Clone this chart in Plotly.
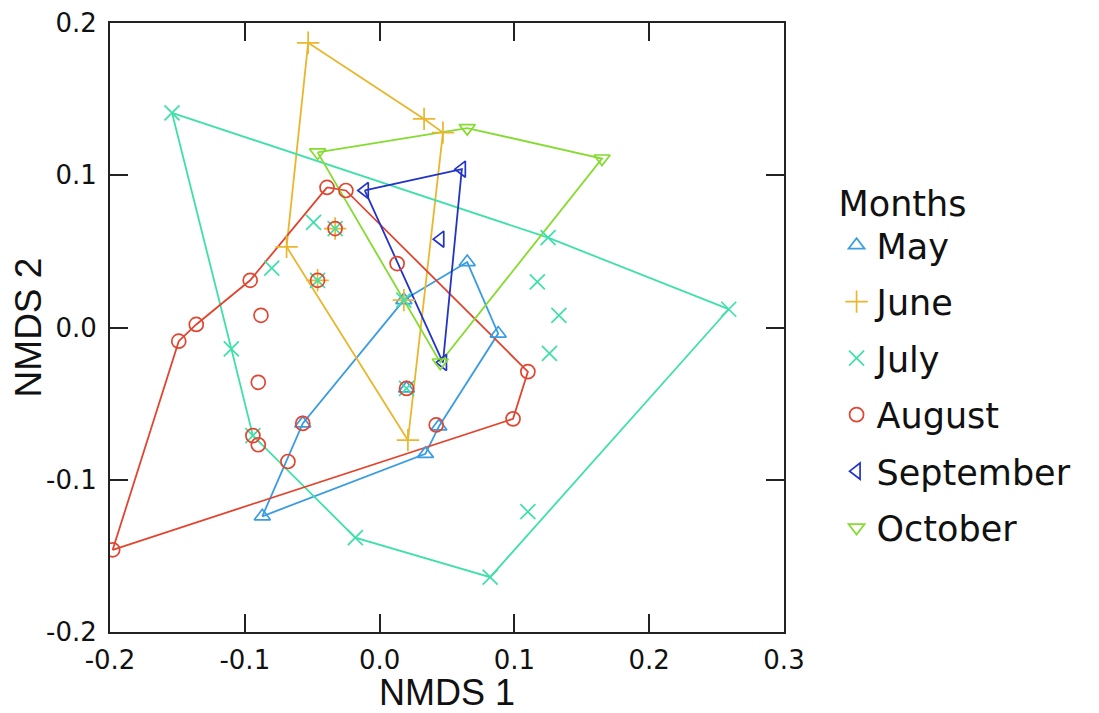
import plotly.graph_objects as go

# ---------------- data ----------------
months = ["May", "June", "July", "August", "September", "October"]

may_x = [0.018, 0.065, 0.088, 0.044, 0.034, -0.087, -0.057, 0.020]
may_y = [0.018, 0.043, -0.004, -0.065, -0.083, -0.124, -0.063, -0.040]
may_hull = [0, 1, 2, 3, 4, 5, 6, 0]

june_x = [-0.053, 0.033, 0.047, 0.021, -0.069, -0.033, -0.046, 0.018]
june_y = [0.187, 0.137, 0.128, -0.074, 0.053, 0.065, 0.031, 0.018]
june_hull = [0, 1, 2, 3, 4, 0]

july_x = [-0.154, 0.125, 0.259, 0.082, -0.018, -0.094, -0.110,
          -0.049, -0.080, -0.033, -0.046, 0.117, 0.133, 0.126, 0.110, 0.020, 0.018]
july_y = [0.141, 0.059, 0.012, -0.164, -0.138, -0.071, -0.014,
          0.069, 0.039, 0.065, 0.031, 0.030, 0.008, -0.017, -0.121, -0.040, 0.018]
july_hull = [0, 1, 2, 3, 4, 5, 6, 0]

august_x = [-0.039, -0.025, 0.110, 0.099, -0.198, -0.149, -0.136, -0.096,
            0.013, -0.088, -0.090, -0.094, -0.090, -0.068, -0.057, 0.042, 0.020, -0.033, -0.046]
august_y = [0.092, 0.090, -0.029, -0.060, -0.146, -0.009, 0.002, 0.031,
            0.042, 0.008, -0.036, -0.071, -0.077, -0.088, -0.063, -0.064, -0.040, 0.065, 0.031]
august_hull = [0, 1, 2, 3, 4, 5, 6, 7, 0]

september_x = [-0.011, 0.061, 0.047, 0.045]
september_y = [0.090, 0.104, -0.023, 0.058]
september_hull = [0, 1, 2, 0]

october_x = [-0.046, 0.065, 0.165, 0.045]
october_y = [0.115, 0.131, 0.111, -0.023]
october_hull = [0, 1, 2, 3, 0]

x_tickvals = [-0.2, -0.1, 0.0, 0.1, 0.2, 0.3]
x_ticktext = ["-0.2", "-0.1", "0.0", "0.1", "0.2", "0.3"]
y_tickvals = [-0.2, -0.1, 0.0, 0.1, 0.2]
y_ticktext = ["-0.2", "-0.1", "0.0", "0.1", "0.2"]

# ---------------- styles ----------------
colors = ["#3a9ce2", "#e9b62e", "#3ee0aa", "#e2452f", "#2233c8", "#84dc2e"]
symbols = ["triangle-up-open", "cross-thin-open", "x-thin-open",
           "circle-open", "triangle-left-open", "triangle-down-open"]
sizes = [14, 16, 15, 14, 14, 14]

series = [
    (may_x, may_y, may_hull),
    (june_x, june_y, june_hull),
    (july_x, july_y, july_hull),
    (august_x, august_y, august_hull),
    (september_x, september_y, september_hull),
    (october_x, october_y, october_hull),
]

fig = go.Figure()

# hull outlines
for (xs, ys, hull), col, name in zip(series, colors, months):
    fig.add_trace(go.Scatter(
        x=[xs[i] for i in hull], y=[ys[i] for i in hull],
        mode="lines", line=dict(color=col, width=1.8),
        showlegend=False, hoverinfo="skip", name=name,
    ))

# points
for (xs, ys, hull), col, sym, sz, name in zip(series, colors, symbols, sizes, months):
    fig.add_trace(go.Scatter(
        x=xs, y=ys, mode="markers", name=name, legendgroup=name,
        marker=dict(symbol=sym, size=sz, color=col,
                    line=dict(color=col, width=1.7)),
    ))

axis_common = dict(
    showgrid=False, zeroline=False,
    showline=True, linecolor="#222222", linewidth=2, mirror="allticks",
    ticks="inside", ticklen=18, tickwidth=2, tickcolor="#222222",
    tickfont=dict(family="DejaVu Sans", size=26, color="#111111"),
    ticklabeloverflow="allow",
)

fig.update_xaxes(
    range=[-0.2, 0.3], tickvals=x_tickvals, ticktext=x_ticktext,
    title=dict(text="NMDS 1", font=dict(family="Liberation Sans", size=36, color="#111111"),
               standoff=8),
    ticklabelstandoff=4,
    **axis_common,
)
fig.update_yaxes(
    range=[-0.2, 0.2], tickvals=y_tickvals, ticktext=y_ticktext,
    title=dict(text="NMDS 2", font=dict(family="Liberation Sans", size=37, color="#111111"),
               standoff=2),
    ticklabelstandoff=6,
    **axis_common,
)

fig.update_layout(
    width=1091, height=705,
    paper_bgcolor="white", plot_bgcolor="white",
    margin=dict(l=102, r=315, t=15, b=81, autoexpand=False),
    legend=dict(
        title=dict(text="Months", font=dict(family="DejaVu Sans", size=35, color="#111111")),
        font=dict(family="DejaVu Sans", size=35, color="#111111"),
        x=1.078, y=0.758, xanchor="left", yanchor="top",
        tracegroupgap=8, itemsizing="trace",
        bgcolor="rgba(0,0,0,0)",
    ),
)

fig.write_html("out.html")
